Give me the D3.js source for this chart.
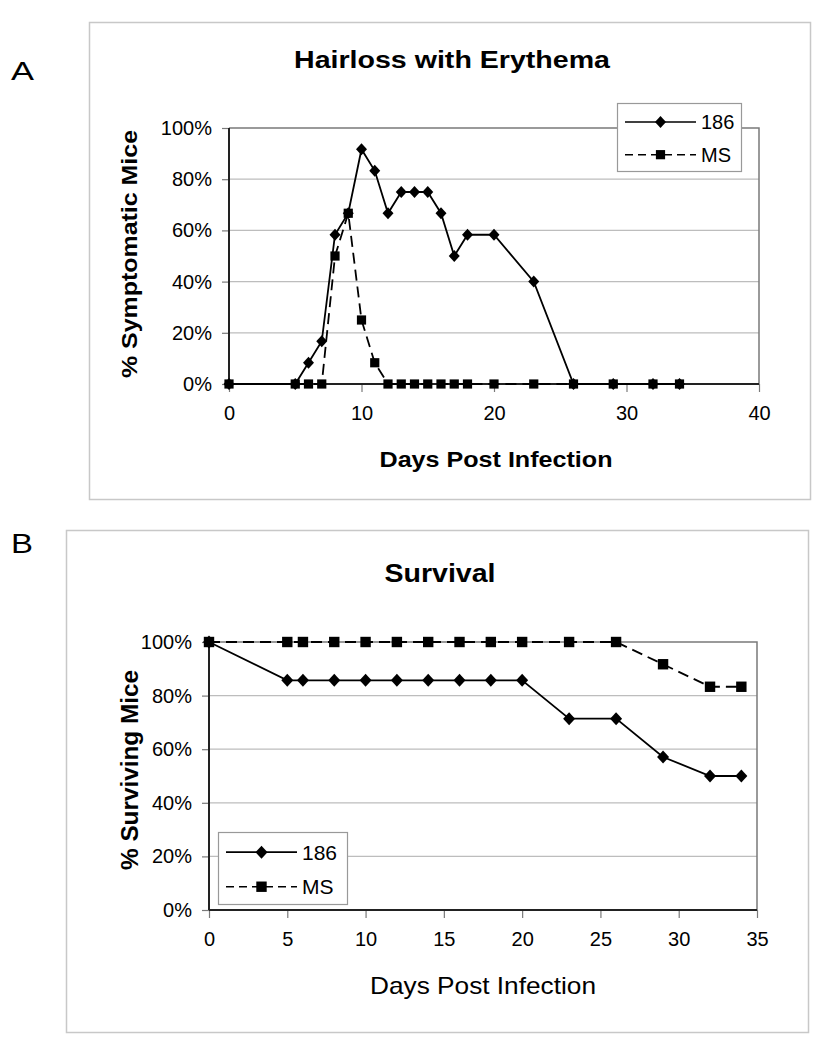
<!DOCTYPE html>
<html><head><meta charset="utf-8">
<script src="https://cdn.jsdelivr.net/npm/d3@7"></script>
<style>
body{margin:0;background:#fff;}
text{font-family:"Liberation Sans",Arial,sans-serif;fill:#000;}
</style></head>
<body>
<svg id="c" width="827" height="1050"></svg>
<script>
// Panel A: Hairloss with Erythema
const daysA = [0,5,6,7,8,9,10,11,12,13,14,15,16,17,18,20,23,26,29,32,34];
const a186 = [0,0,8.3,16.7,58.3,66.7,91.7,83.3,66.7,75,75,75,66.7,50,58.3,58.3,40,0,0,0,0];
const aMS  = [0,0,0,0,50,66.7,25,8.3,0,0,0,0,0,0,0,0,0,0,0,0,0];
const xTicksA = [0,10,20,30,40];
// Panel B: Survival
const daysB = [0,5,6,8,10,12,14,16,18,20,23,26,29,32,34];
const b186 = [100,85.7,85.7,85.7,85.7,85.7,85.7,85.7,85.7,85.7,71.4,71.4,57.1,50,50];
const bMS  = [100,100,100,100,100,100,100,100,100,100,100,100,91.7,83.3,83.3];
const xTicksB = [0,5,10,15,20,25,30,35];
const yTicks = [0,20,40,60,80,100];
const seriesNames = ["186","MS"];

const svg = d3.select("#c");
svg.append("rect").attr("width",827).attr("height",1050).attr("fill","#fff");

function diamond(g,x,y,w,h){
  g.append("path").attr("d",`M${x},${y-h}L${x+w},${y}L${x},${y+h}L${x-w},${y}Z`).attr("fill","#000");
}
function square(g,x,y,s){
  g.append("rect").attr("x",x-s).attr("y",y-s).attr("width",2*s).attr("height",2*s).attr("fill","#000");
}
function txt(g,x,y,s,fs,bold,len,anchor){
  const t = g.append("text").attr("x",x).attr("y",y).attr("text-anchor",anchor||"middle")
    .style("font-size",fs+"px").style("font-weight",bold?"bold":"normal").text(s);
  if(len) t.attr("textLength",len).attr("lengthAdjust","spacingAndGlyphs");
  return t;
}

function panel(o){
  const g = svg.append("g");
  g.append("rect").attr("x",o.frame[0]+0.5).attr("y",o.frame[1]+0.5)
    .attr("width",o.frame[2]-o.frame[0]).attr("height",o.frame[3]-o.frame[1])
    .attr("fill","none").attr("stroke","#c8c8c8").attr("stroke-width",1.5);
  const x = d3.scaleLinear().domain(o.xdom).range([o.px0,o.px1]);
  const y = d3.scaleLinear().domain([0,100]).range([o.py0,o.py1]);
  g.selectAll(".grid").data(yTicks.filter(t=>t>0&&t<100)).enter().append("line")
    .attr("x1",o.px0).attr("x2",o.px1).attr("y1",d=>y(d)).attr("y2",d=>y(d))
    .attr("stroke","#bdbdbd").attr("stroke-width",1.2);
  g.append("path").attr("d",`M${o.px0},${o.py1}H${o.px1}V${o.py0}`)
    .attr("fill","none").attr("stroke","#7a7a7a").attr("stroke-width",1.5);
  const ya = d3.axisLeft(y).tickValues(yTicks).tickSize(7).tickPadding(10).tickFormat(d=>d+"%");
  const yg = g.append("g").attr("transform",`translate(${o.px0},0)`).call(ya);
  const xa = d3.axisBottom(x).tickValues(o.xticks).tickSize(8).tickPadding(o.xpad).tickFormat(d3.format("d"));
  const xg = g.append("g").attr("transform",`translate(0,${o.py0})`).call(xa);
  [yg,xg].forEach(a=>{
    a.select(".domain").remove();
    a.selectAll(".tick line").attr("stroke","#7a7a7a").attr("stroke-width",1.2);
    a.selectAll(".tick text").style("font-family",'"Liberation Sans",Arial,sans-serif').style("font-size",o.tickFs+"px").attr("fill","#000");
  });
  g.append("line").attr("x1",o.px0).attr("x2",o.px0).attr("y1",o.py1).attr("y2",o.py0).attr("stroke","#222").attr("stroke-width",2);
  g.append("line").attr("x1",o.px0).attr("x2",o.px1).attr("y1",o.py0).attr("y2",o.py0).attr("stroke","#222").attr("stroke-width",2);
  const ln = d3.line().x(d=>x(d[0])).y(d=>y(d[1]));
  const dMS = o.days.map((d,i)=>[d,o.vMS[i]]);
  const d186 = o.days.map((d,i)=>[d,o.v186[i]]);
  g.append("path").attr("d",ln(dMS)).attr("fill","none").attr("stroke","#000").attr("stroke-width",1.8).attr("stroke-dasharray","11,6");
  g.append("path").attr("d",ln(d186)).attr("fill","none").attr("stroke","#000").attr("stroke-width",1.8);
  dMS.forEach(p=>square(g,x(p[0]),y(p[1]),o.sq));
  d186.forEach(p=>diamond(g,x(p[0]),y(p[1]),o.dw,o.dh));
  const L = o.legend;
  g.append("rect").attr("x",L[0]+0.5).attr("y",L[1]+0.5).attr("width",L[2]-L[0]).attr("height",L[3]-L[1])
    .attr("fill","#fff").attr("stroke","#999").attr("stroke-width",1.2);
  const ly1 = L[1]+ (L[3]-L[1])*0.28, ly2 = L[1]+(L[3]-L[1])*0.76;
  const lx0 = L[0]+8, lx1 = L[0]+79, lxm=(lx0+lx1)/2;
  g.append("line").attr("x1",lx0).attr("x2",lx1).attr("y1",ly1).attr("y2",ly1).attr("stroke","#000").attr("stroke-width",1.6);
  diamond(g,lxm,ly1,o.dw,o.dh);
  g.append("line").attr("x1",lx0).attr("x2",lx1).attr("y1",ly2).attr("y2",ly2).attr("stroke","#000").attr("stroke-width",1.6).attr("stroke-dasharray","8,5");
  square(g,lxm,ly2,o.sq);
  txt(g,lx1+5,ly1,seriesNames[0],o.legFs,false,null,"start").attr("dy","0.35em");
  txt(g,lx1+5,ly2,seriesNames[1],o.legFs,false,null,"start").attr("dy","0.35em");
  txt(g,o.titleX,o.titleY,o.title,o.titleFs,true,o.titleLen);
  txt(g,o.xlabX,o.xlabY,"Days Post Infection",o.xlabFs,o.xlabBold,o.xlabLen);
  txt(g,0,0,o.ylab,o.ylabFs,true,o.ylabLen).attr("transform",`translate(${o.ylabX},${o.ylabY}) rotate(-90)`);
  txt(g,o.letterX,o.letterY,o.letter,o.letterFs,false,o.letterLen,"start");
}

panel({frame:[89,22,810,499], xdom:[0,40], px0:229, px1:759, py0:384, py1:128,
  xticks:xTicksA, xpad:14, tickFs:20, days:daysA, v186:a186, vMS:aMS,
  sq:4.6, dw:5.5, dh:6, legFs:20,
  legend:[617,103,741,171],
  title:"Hairloss with Erythema", titleX:452, titleY:68, titleFs:23, titleLen:316,
  xlabX:496, xlabY:467, xlabFs:22, xlabBold:true, xlabLen:233,
  ylab:"% Symptomatic Mice", ylabX:137, ylabY:254, ylabFs:22, ylabLen:248,
  letter:"A", letterX:11, letterY:80, letterFs:25, letterLen:23});
panel({frame:[66,530,808,1032], xdom:[0,35], px0:209, px1:757, py0:910, py1:642,
  xticks:xTicksB, xpad:14, tickFs:20, days:daysB, v186:b186, vMS:bMS,
  sq:5.2, dw:6, dh:6.5, legFs:21,
  legend:[218,832,347,904],
  title:"Survival", titleX:440, titleY:582, titleFs:26, titleLen:111,
  xlabX:483, xlabY:994, xlabFs:24, xlabBold:false, xlabLen:226,
  ylab:"% Surviving Mice", ylabX:138, ylabY:770, ylabFs:24, ylabLen:200,
  letter:"B", letterX:11, letterY:553, letterFs:27, letterLen:22});
</script>
</body></html>
